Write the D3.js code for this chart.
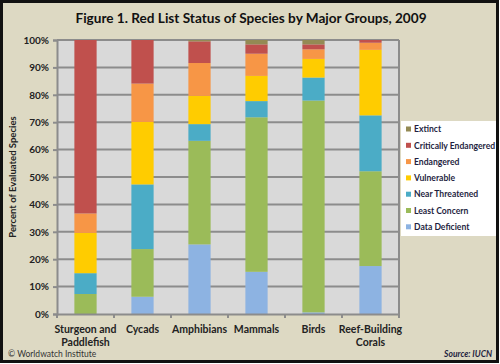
<!DOCTYPE html>
<html><head><meta charset="utf-8">
<script src="https://cdn.jsdelivr.net/npm/d3@7"></script>
<style>body{margin:0;background:#fff}svg{display:block}</style>
</head><body>
<script>
const categories = [["Sturgeon and","Paddlefish"],["Cycads"],["Amphibians"],["Mammals"],["Birds"],["Reef-Building","Corals"]];
const series = ["Data Deficient","Least Concern","Near Threatened","Vulnerable","Endangered","Critically Endangered","Extinct"];
const dataDeficient = [0, 6.3, 25.4, 15.4, 0.6, 17.5];
const leastConcern = [7.3, 17.4, 37.8, 56.4, 77.3, 34.6];
const nearThreatened = [7.6, 23.6, 6.1, 5.9, 8.4, 20.4];
const vulnerable = [14.7, 22.8, 10.3, 9.2, 6.8, 23.9];
const endangered = [7.1, 14.0, 12.0, 8.1, 3.5, 2.6];
const criticallyEndangered = [63.3, 15.9, 7.9, 3.4, 1.8, 1.0];
const extinct = [0, 0, 0.5, 1.6, 1.6, 0];
const yTicks = [0,10,20,30,40,50,60,70,80,90,100];
const colors = ["#8db3e2","#9bbb59","#4bacc6","#ffcc00","#f79646","#c0504d","#948a54"];

const valuesBySeries = [dataDeficient, leastConcern, nearThreatened, vulnerable, endangered, criticallyEndangered, extinct];
const rows = categories.map((c,i)=>{const r={cat:c.join(" ")}; series.forEach((s,j)=>r[s]=valuesBySeries[j][i]); return r;});

const W=500,H=364;
const svg=d3.select("body").append("svg").attr("width",W).attr("height",H);
const font="Lato, 'Open Sans', sans-serif";
svg.append("rect").attr("x",1.5).attr("y",1.5).attr("width",W-4).attr("height",H-4).attr("fill","#ddd9c3").attr("stroke","#111").attr("stroke-width",3);

const m={l:57,t:40,r:399,b:314};
const x=d3.scaleBand().domain(rows.map(r=>r.cat)).range([m.l,m.r]).paddingInner(0.61).paddingOuter(0.305);
const y=d3.scaleLinear().domain([0,100]).range([m.b,m.t]);

svg.append("rect").attr("x",m.l).attr("y",m.t).attr("width",m.r-m.l).attr("height",m.b-m.t).attr("fill","#d9d9d9");
svg.append("g").selectAll("line").data(yTicks.slice(1)).join("line")
 .attr("x1",m.l).attr("x2",m.r).attr("y1",d=>y(d)).attr("y2",d=>y(d)).attr("stroke","#8c8c8c").attr("stroke-width",2);
svg.append("line").attr("x1",m.r).attr("x2",m.r).attr("y1",m.t).attr("y2",m.b).attr("stroke","#8c8c8c").attr("stroke-width",2);

const stack=d3.stack().keys(series)(rows);
svg.append("g").selectAll("g").data(stack).join("g").attr("fill",(d,i)=>colors[i])
 .selectAll("rect").data(d=>d).join("rect")
 .attr("x",d=>x(d.data.cat)).attr("width",x.bandwidth())
 .attr("y",d=>y(d[1])).attr("height",d=>Math.max(0,y(d[0])-y(d[1])));

// y axis
const ya=svg.append("g").attr("transform",`translate(${m.l},0)`).call(d3.axisLeft(y).tickValues(yTicks).tickFormat(d=>d+"%").tickSize(4).tickPadding(4));
ya.select(".domain").attr("stroke","#8c8c8c").attr("stroke-width",2);
ya.selectAll(".tick line").attr("stroke","#8c8c8c").attr("stroke-width",2);
ya.selectAll("text").attr("font-family",font).attr("font-weight","bold").attr("font-size",10).attr("fill","#222");

// x axis
const xa=svg.append("g").attr("transform",`translate(0,${m.b})`).call(d3.axisBottom(x).tickSize(0).tickFormat(""));
xa.select(".domain").attr("stroke","#8c8c8c").attr("stroke-width",2);
const step=x.step();
svg.append("g").selectAll("line").data(d3.range(categories.length+1)).join("line")
 .attr("x1",i=>m.l+i*step).attr("x2",i=>m.l+i*step).attr("y1",m.b).attr("y2",m.b+4).attr("stroke","#8c8c8c").attr("stroke-width",2);
svg.append("g").selectAll("text").data(rows).join("text")
 .attr("x",d=>x(d.cat)+x.bandwidth()/2).attr("y",333).attr("text-anchor","middle")
 .attr("font-family",font).attr("font-weight","bold").attr("font-size",10.5).attr("fill","#222")
 .each(function(d,i){const t=d3.select(this); categories[i].forEach((ln,k)=>t.append("tspan").attr("x",x(d.cat)+x.bandwidth()/2).attr("dy",k?13:0).text(ln));});

// y title
svg.append("text").attr("transform","translate(16,177) rotate(-90)").attr("text-anchor","middle")
 .attr("font-family",font).attr("font-weight","bold").attr("font-size",9.5).attr("fill","#222").text("Percent of Evaluated Species");

// title
svg.append("text").attr("x",251).attr("y",23).attr("text-anchor","middle").attr("font-family",font).attr("font-weight","bold").attr("font-size",13.6).attr("fill","#111")
 .text("Figure 1. Red List Status of Species by Major Groups, 2009");

// legend
svg.append("rect").attr("x",401).attr("y",121).attr("width",95).attr("height",115).attr("fill","#fff");
const leg=svg.append("g").selectAll("g").data(series.slice().reverse()).join("g").attr("transform",(d,i)=>`translate(406,${129+i*16.3})`);
leg.append("rect").attr("x",0).attr("y",-2.5).attr("width",5).attr("height",5).attr("fill",d=>colors[series.indexOf(d)]);
leg.append("text").attr("x",8).attr("y",3.2).attr("font-family",font).attr("font-weight","bold").attr("font-size",8.6).attr("fill","#1f1f3f").text(d=>d);

svg.append("text").attr("x",8).attr("y",357).attr("font-family",font).attr("font-size",8.5).attr("fill","#333").text("© Worldwatch Institute");
svg.append("text").attr("x",492).attr("y",357).attr("text-anchor","end").attr("font-family",font).attr("font-weight","bold").attr("font-style","italic").attr("font-size",8.5).attr("fill","#1f1f3f").text("Source: IUCN");
</script>
</body></html>
